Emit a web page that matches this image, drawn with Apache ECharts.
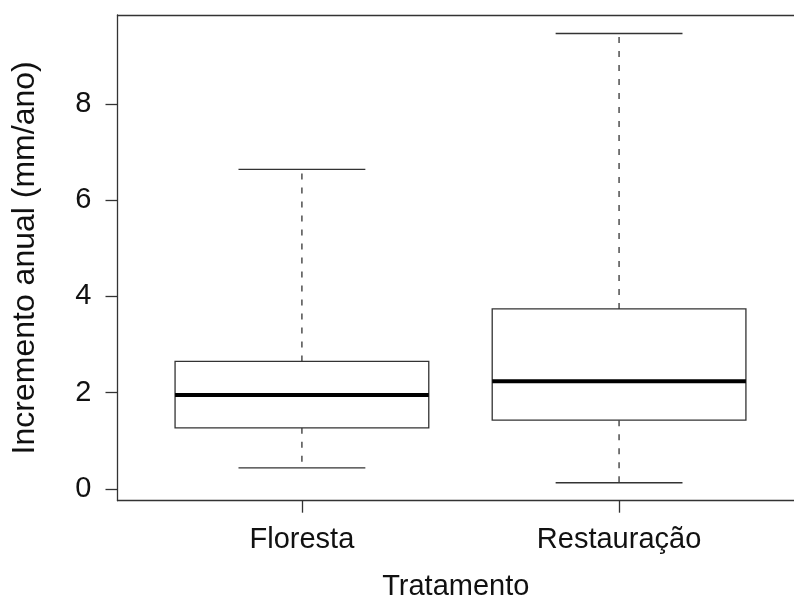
<!DOCTYPE html>
<html>
<head>
<meta charset="utf-8">
<script src="https://cdn.jsdelivr.net/npm/echarts@6/dist/echarts.min.js"></script>
<style>
html,body{margin:0;padding:0;background:#fff;}
#chart{width:794px;height:604px;}
</style>
</head>
<body>
<div id="chart"></div>
<script>
// Data
const categories = ['Floresta', 'Restauração'];
const lowerWhisker = [0.44, 0.13];
const q1 = [1.27, 1.43];
const median = [1.95, 2.24];
const q3 = [2.65, 3.74];
const upperWhisker = [6.64, 9.46];
const yTicks = [0, 2, 4, 6, 8];
const xTicks = [1, 2];

const data = categories.map((c, i) => [i + 1, lowerWhisker[i], q1[i], median[i], q3[i], upperWhisker[i]]);

const FONT = 'Liberation Sans, Arial, Helvetica, sans-serif';
const LINE = '#333';
const LW = 1.3;

function renderItem(params, api) {
  const x = api.value(0);
  const lw = api.value(1), b1 = api.value(2), md = api.value(3), b3 = api.value(4), uw = api.value(5);
  const half = 0.4, staple = 0.2;
  const p = (xx, yy) => api.coord([xx, yy]);
  const seg = (xa, ya, xb, yb, style) => {
    const a = p(xa, ya), b = p(xb, yb);
    return { type: 'line', shape: { x1: a[0], y1: a[1], x2: b[0], y2: b[1] }, style };
  };
  const boxTL = p(x - half, b3), boxBR = p(x + half, b1);
  const children = [
    seg(x, b3, x, uw, { stroke: LINE, lineWidth: LW, lineDash: [6, 8] }),
    seg(x, b1, x, lw, { stroke: LINE, lineWidth: LW, lineDash: [6, 8] }),
    seg(x - staple, uw, x + staple, uw, { stroke: LINE, lineWidth: LW }),
    seg(x - staple, lw, x + staple, lw, { stroke: LINE, lineWidth: LW }),
    { type: 'rect', shape: { x: boxTL[0], y: boxTL[1], width: boxBR[0] - boxTL[0], height: boxBR[1] - boxTL[1] },
      style: { fill: '#fff', stroke: LINE, lineWidth: LW } },
    seg(x - half, md, x + half, md, { stroke: '#000', lineWidth: 4 })
  ];
  return { type: 'group', children };
}

const chart = echarts.init(document.getElementById('chart'), null, { renderer: 'canvas' });
chart.setOption({
  animation: false,
  backgroundColor: '#fff',
  grid: { show: false, left: 117.5, top: 15, right: 0, height: 485.7, containLabel: false, outerBoundsMode: 'none' },
  xAxis: [{
    type: 'value', min: 0.4185, max: 2.5516, position: 'bottom',
    splitLine: { show: false },
    axisLine: { show: true, onZero: false, lineStyle: { color: LINE, width: LW } },
    axisTick: { show: true, customValues: xTicks, length: 12, inside: false, lineStyle: { color: LINE, width: LW } },
    axisLabel: { show: true, customValues: xTicks, margin: 25, fontSize: 29, color: '#111', fontFamily: FONT,
      formatter: v => categories[Math.round(v) - 1] || '' },
    name: 'Tratamento', nameLocation: 'middle', nameGap: 72,
    nameTextStyle: { fontSize: 29, color: '#111', fontFamily: FONT }
  }, {
    type: 'value', min: 0.4185, max: 2.5516, position: 'top',
    splitLine: { show: false },
    axisLine: { show: true, onZero: false, lineStyle: { color: LINE, width: LW } },
    axisTick: { show: false }, axisLabel: { show: false }
  }],
  yAxis: {
    type: 'value', min: -0.243, max: 9.844,
    splitLine: { show: false },
    axisLine: { show: true, onZero: false, lineStyle: { color: LINE, width: LW } },
    axisTick: { show: true, customValues: yTicks, length: 12, inside: false, lineStyle: { color: LINE, width: LW } },
    axisLabel: { show: true, customValues: yTicks, margin: 26, fontSize: 29, color: '#111', fontFamily: FONT },
    name: 'Incremento anual (mm/ano)', nameLocation: 'middle', nameGap: 76, nameRotate: 90,
    nameTextStyle: { fontSize: 32, color: '#111', fontFamily: FONT }
  },
  series: [{
    type: 'custom',
    xAxisIndex: 0,
    renderItem,
    encode: { x: 0, y: [1, 2, 3, 4, 5] },
    data,
    clip: false
  }]
});
</script>
</body>
</html>
